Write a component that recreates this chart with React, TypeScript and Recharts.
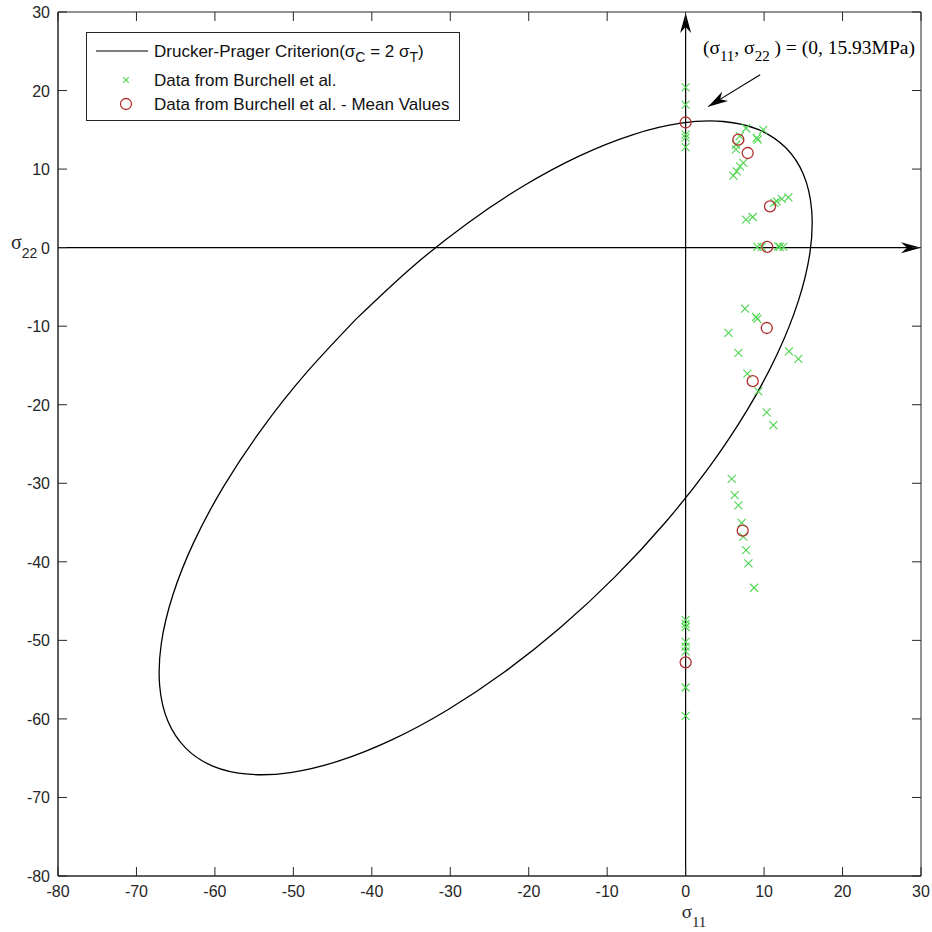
import React from 'react';
import { ComposedChart, XAxis, YAxis, Line, Scatter, ReferenceLine, ReferenceDot, ReferenceArea, Legend } from 'recharts';

const xTicks = [-80, -70, -60, -50, -40, -30, -20, -10, 0, 10, 20, 30];
const yTicks = [-80, -70, -60, -50, -40, -30, -20, -10, 0, 10, 20, 30];

// Drucker-Prager criterion curve (sigma_C = 2 sigma_T), points read along the ellipse
const criterionSigma11 = [-41.95, -48.33, -54.03, -58.86, -62.67, -65.35, -66.83, -67.04, -66.0, -63.72, -60.28, -55.78, -50.37, -44.19, -37.46, -30.36, -23.1, -15.92, -9.04, -2.65, 3.05, 7.88, 11.69, 14.37, 15.85, 16.06, 15.02, 12.74, 9.3, 4.8, -0.61, -6.78, -13.52, -20.63, -27.88, -35.06, -41.95];
const criterionSigma22 = [-9.04, -15.92, -23.1, -30.36, -37.46, -44.19, -50.37, -55.78, -60.28, -63.72, -66.0, -67.04, -66.83, -65.35, -62.67, -58.86, -54.03, -48.33, -41.95, -35.06, -27.88, -20.63, -13.52, -6.78, -0.61, 4.8, 9.3, 12.74, 15.02, 16.06, 15.85, 14.37, 11.69, 7.88, 3.05, -2.65, -9.04];

const burchellSigma11 = [0, 0, 0, 0, 0, 7.7, 9.9, 9.06, 9.19, 6.42, 6.42, 6.9, 6.08, 6.51, 6.93, 7.36, 11.3, 11.61, 12.25, 13.1, 7.7, 8.55, 9.14, 9.7, 11.8, 12.0, 12.45, 7.57, 8.97, 9.14, 5.45, 6.72, 13.18, 14.37, 7.87, 9.27, 10.33, 11.18, 5.87, 6.25, 6.72, 7.15, 7.36, 7.7, 8.0, 8.72, 0, 0, 0, 0, 0, 0, 0, 0];
const burchellSigma22 = [20.4, 18.2, 14.4, 14.0, 12.8, 15.2, 15.0, 13.96, 13.75, 13.1, 12.5, 14.2, 9.17, 9.7, 10.35, 10.78, 5.7, 5.9, 6.2, 6.4, 3.56, 3.9, 0.1, 0.1, 0.15, 0.1, 0.1, -7.77, -8.83, -9.08, -10.86, -13.4, -13.2, -14.17, -16.04, -18.3, -20.96, -22.6, -29.45, -31.5, -32.8, -35.05, -36.8, -38.5, -40.2, -43.3, -47.4, -47.9, -48.3, -50.2, -50.8, -51.4, -56.0, -59.6];

const meanSigma11 = [0, 6.72, 7.91, 10.75, 10.4, 10.34, 8.55, 7.27, 0];
const meanSigma22 = [15.93, 13.75, 12.05, 5.26, 0.1, -10.23, -17.0, -36.03, -52.8];

const criterionData = criterionSigma11.map((x, i) => ({ x, y: criterionSigma22[i] }));
const burchellData = burchellSigma11.map((x, i) => ({ x, y: burchellSigma22[i] }));
const meanData = meanSigma11.map((x, i) => ({ x, y: meanSigma22[i] }));

const SANS = "'Liberation Sans', Arial, Helvetica, sans-serif";
const SERIF = "'Liberation Serif', 'Times New Roman', serif";
const GREEN = '#4fd44f';
const RED = '#b03030';
const AXIS = '#262626';

const W = 932;
const H = 932;
const M = { top: 12, right: 11, bottom: 0, left: 0 };
const X_AXIS_H = 56;
const Y_AXIS_W = 58;
const PLOT_H = H - M.top - M.bottom - X_AXIS_H;
const PLOT_W = W - M.left - M.right - Y_AXIS_W;
const TICK_LEN = 9;
const X_MARGIN = 21;
const Y_MARGIN = 8;

const Cross = ({ cx, cy, s = 4 }: any) => (
  <g stroke={GREEN} strokeWidth={1.1}>
    <line x1={cx - s} y1={cy - s} x2={cx + s} y2={cy + s} />
    <line x1={cx - s} y1={cy + s} x2={cx + s} y2={cy - s} />
  </g>
);
const Ring = ({ cx, cy }: any) => <circle cx={cx} cy={cy} r={5.5} fill="none" stroke={RED} strokeWidth={1.3} />;

const arrowHead = (tx: number, ty: number, fx: number, fy: number) => {
  const dx = tx - fx;
  const dy = ty - fy;
  const len = Math.sqrt(dx * dx + dy * dy) || 1;
  const ux = dx / len;
  const uy = dy / len;
  const nx = -uy;
  const ny = ux;
  const L = 20;
  const Wd = 5.5;
  const N = 14;
  return `${tx},${ty} ${tx - L * ux + Wd * nx},${ty - L * uy + Wd * ny} ${tx - N * ux},${ty - N * uy} ${tx - L * ux - Wd * nx},${ty - L * uy - Wd * ny}`;
};

const VAxisArrow = (p: any) => {
  const top = Math.min(p.y1, p.y2);
  const bot = Math.max(p.y1, p.y2);
  const x = p.x1;
  return (
    <g>
      <line x1={x} y1={bot} x2={x} y2={top + 4} stroke="#000" strokeWidth={1.2} />
      <polygon points={arrowHead(x, top + 1, x, bot)} fill="#000" />
    </g>
  );
};
const HAxisArrow = (p: any) => {
  const left = Math.min(p.x1, p.x2);
  const right = Math.max(p.x1, p.x2);
  const y = p.y1;
  return (
    <g>
      <line x1={left} y1={y} x2={right - 4} y2={y} stroke="#000" strokeWidth={1.2} />
      <polygon points={arrowHead(right, y, left, y)} fill="#000" />
    </g>
  );
};
const NoteArrow = (p: any) => (
  <g>
    <line x1={p.x1} y1={p.y1} x2={p.x2} y2={p.y2} stroke="#000" strokeWidth={1.1} />
    <polygon points={arrowHead(p.x2, p.y2, p.x1, p.y1)} fill="#000" />
  </g>
);
const NoteText = (p: any) => (
  <text x={p.cx} y={p.cy} fontFamily={SERIF} fontSize={19.5} fill="#000">
    <tspan>(σ</tspan>
    <tspan dy={7} fontSize={15}>11</tspan>
    <tspan dy={-7}>, σ</tspan>
    <tspan dy={7} fontSize={15}>22</tspan>
    <tspan dy={-7}> ) = (0, 15.93MPa)</tspan>
  </text>
);

const XTick = (p: any) => {
  const v = p.payload.value;
  const axisY = p.y - X_MARGIN;
  const topY = axisY - PLOT_H;
  return (
    <g>
      <line x1={p.x} y1={axisY} x2={p.x} y2={axisY - TICK_LEN} stroke={AXIS} />
      <line x1={p.x} y1={topY} x2={p.x} y2={topY + TICK_LEN} stroke={AXIS} />
      <text x={p.x} y={p.y} textAnchor="middle" fontFamily={SANS} fontSize={16} fill={AXIS}>{v}</text>
      {v === 0 && (
        <text x={p.x - 4} y={p.y + 21} fontFamily={SERIF} fontSize={19} fill={AXIS}>
          <tspan>σ</tspan>
          <tspan dy={9} fontSize={15}>11</tspan>
        </text>
      )}
    </g>
  );
};
const YTick = (p: any) => {
  const v = p.payload.value;
  const axisX = p.x + Y_MARGIN;
  const rightX = axisX + PLOT_W;
  return (
    <g>
      <line x1={axisX} y1={p.y} x2={axisX + TICK_LEN} y2={p.y} stroke={AXIS} />
      <line x1={rightX} y1={p.y} x2={rightX - TICK_LEN} y2={p.y} stroke={AXIS} />
      <text x={p.x} y={p.y + 6} textAnchor="end" fontFamily={SANS} fontSize={16} fill={AXIS}>{v}</text>
      {v === 0 && (
        <text x={p.x - 39} y={p.y + 1} fontFamily={SERIF} fontSize={20} fill={AXIS}>
          <tspan>σ</tspan>
          <tspan dy={9} fontSize={14} fontFamily={SANS}>22</tspan>
        </text>
      )}
    </g>
  );
};

const LegendBox = () => (
  <svg width={375} height={90} style={{ display: 'block' }}>
    <rect x={0.5} y={0.5} width={373} height={88} fill="#fff" stroke={AXIS} strokeWidth={1} />
    <line x1={10} y1={19} x2={62} y2={19} stroke="#000" strokeWidth={1.2} />
    <text x={68} y={25} fontFamily={SANS} fontSize={17} fill="#111">
      <tspan>Drucker-Prager Criterion(σ</tspan>
      <tspan dy={5} fontSize={14}>C</tspan>
      <tspan dy={-5}> = 2 σ</tspan>
      <tspan dy={5} fontSize={14}>T</tspan>
      <tspan dy={-5}>)</tspan>
    </text>
    <Cross cx={40} cy={48} s={2.8} />
    <text x={68} y={54} fontFamily={SANS} fontSize={17} fill="#111">Data from Burchell et al.</text>
    <Ring cx={40} cy={72} />
    <text x={68} y={78} fontFamily={SANS} fontSize={17} fill="#111">Data from Burchell et al. - Mean Values</text>
  </svg>
);

export default function App() {
  return (
    <div style={{ position: 'absolute', left: 0, top: 0, width: W, height: H, background: '#fff' }}>
      <ComposedChart width={W} height={H} margin={M}>
        <XAxis xAxisId="b" type="number" dataKey="x" domain={[-80, 30]} ticks={xTicks} allowDataOverflow
          orientation="bottom" height={X_AXIS_H} stroke={AXIS} tickLine={false} tickSize={0} tickMargin={X_MARGIN}
          tick={<XTick />} interval={0} />
        <YAxis yAxisId="l" type="number" dataKey="y" domain={[-80, 30]} ticks={yTicks} allowDataOverflow
          orientation="left" width={Y_AXIS_W} stroke={AXIS} tickLine={false} tickSize={0} tickMargin={Y_MARGIN}
          tick={<YTick />} interval={0} />
        <ReferenceArea xAxisId="b" yAxisId="l" x1={-80} x2={30} y1={-80} y2={30} fill="none" fillOpacity={0}
          stroke={AXIS} strokeWidth={1} ifOverflow="visible" />
        <ReferenceLine xAxisId="b" yAxisId="l" x={0} shape={VAxisArrow} />
        <ReferenceLine xAxisId="b" yAxisId="l" y={0} shape={HAxisArrow} />
        <Line xAxisId="b" yAxisId="l" data={criterionData} dataKey="y" type="natural" stroke="#000" strokeWidth={1.3}
          dot={false} activeDot={false} isAnimationActive={false} name="Drucker-Prager Criterion" />
        <Scatter xAxisId="b" yAxisId="l" data={burchellData} dataKey="y" shape={<Cross />} isAnimationActive={false}
          name="Data from Burchell et al." />
        <Scatter xAxisId="b" yAxisId="l" data={meanData} dataKey="y" shape={<Ring />} isAnimationActive={false}
          name="Data from Burchell et al. - Mean Values" />
        <ReferenceLine xAxisId="b" yAxisId="l" segment={[{ x: 9.5, y: 22 }, { x: 2.86, y: 17.95 }]} shape={NoteArrow} ifOverflow="visible" />
        <ReferenceDot xAxisId="b" yAxisId="l" x={2.2} y={24.7} r={0} shape={NoteText} ifOverflow="visible" />
        <Legend verticalAlign="middle" align="center" content={<LegendBox />}
          wrapperStyle={{ position: 'absolute', left: 86, top: 32, width: 375, height: 90 }} />
      </ComposedChart>
    </div>
  );
}
